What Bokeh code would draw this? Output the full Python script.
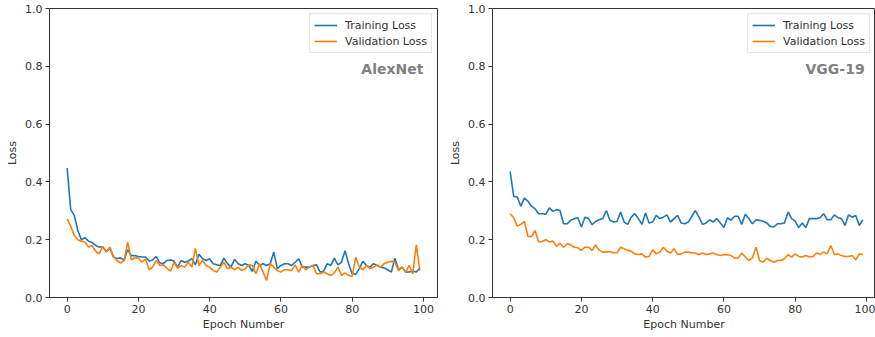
from bokeh.plotting import figure
from bokeh.layouts import row
from bokeh.models import Range1d, FixedTicker, PrintfTickFormatter, Label
from bokeh.embed import file_html
from bokeh.resources import INLINE

epochs = list(range(100))

alex_train = [0.448, 0.304, 0.284, 0.232, 0.200, 0.207, 0.195, 0.190, 0.180, 0.175,
              0.175, 0.160, 0.170, 0.140, 0.135, 0.137, 0.130, 0.165, 0.145, 0.145,
              0.142, 0.140, 0.140, 0.126, 0.130, 0.142, 0.120, 0.117, 0.128, 0.130,
              0.126, 0.105, 0.128, 0.122, 0.126, 0.134, 0.113, 0.150, 0.134, 0.128,
              0.134, 0.117, 0.113, 0.111, 0.136, 0.117, 0.105, 0.132, 0.117, 0.111,
              0.117, 0.111, 0.090, 0.126, 0.111, 0.117, 0.111, 0.117, 0.157, 0.100,
              0.111, 0.117, 0.117, 0.111, 0.122, 0.134, 0.105, 0.105, 0.105, 0.111,
              0.113, 0.088, 0.091, 0.117, 0.111, 0.136, 0.113, 0.122, 0.162, 0.117,
              0.082, 0.080, 0.100, 0.125, 0.111, 0.105, 0.117, 0.111, 0.105, 0.102,
              0.096, 0.088, 0.136, 0.096, 0.105, 0.088, 0.088, 0.091, 0.088, 0.102]

alex_val = [0.272, 0.246, 0.215, 0.200, 0.195, 0.192, 0.175, 0.180, 0.160, 0.151,
            0.177, 0.157, 0.175, 0.142, 0.128, 0.119, 0.128, 0.192, 0.130, 0.137,
            0.137, 0.122, 0.134, 0.096, 0.105, 0.128, 0.111, 0.113, 0.102, 0.091,
            0.122, 0.102, 0.111, 0.105, 0.122, 0.105, 0.170, 0.111, 0.128, 0.111,
            0.105, 0.093, 0.088, 0.105, 0.122, 0.100, 0.105, 0.096, 0.105, 0.093,
            0.100, 0.113, 0.111, 0.082, 0.117, 0.088, 0.059, 0.117, 0.105, 0.093,
            0.088, 0.096, 0.096, 0.093, 0.113, 0.088, 0.111, 0.096, 0.105, 0.111,
            0.082, 0.082, 0.088, 0.082, 0.076, 0.085, 0.105, 0.076, 0.085, 0.076,
            0.073, 0.140, 0.105, 0.096, 0.111, 0.100, 0.105, 0.113, 0.105, 0.117,
            0.122, 0.125, 0.122, 0.093, 0.105, 0.088, 0.111, 0.082, 0.182, 0.093]

vgg_train = [0.436, 0.350, 0.348, 0.316, 0.344, 0.333, 0.316, 0.307, 0.290, 0.290,
             0.288, 0.310, 0.298, 0.304, 0.301, 0.255, 0.255, 0.267, 0.273, 0.276,
             0.244, 0.278, 0.273, 0.252, 0.263, 0.269, 0.273, 0.301, 0.267, 0.261,
             0.263, 0.296, 0.261, 0.253, 0.278, 0.290, 0.273, 0.253, 0.292, 0.258,
             0.261, 0.284, 0.273, 0.278, 0.286, 0.261, 0.273, 0.284, 0.258, 0.255,
             0.261, 0.281, 0.301, 0.278, 0.253, 0.258, 0.269, 0.261, 0.273, 0.258,
             0.242, 0.276, 0.267, 0.281, 0.281, 0.253, 0.288, 0.273, 0.255, 0.269,
             0.267, 0.264, 0.258, 0.246, 0.244, 0.255, 0.255, 0.258, 0.296, 0.273,
             0.264, 0.242, 0.258, 0.242, 0.273, 0.273, 0.273, 0.276, 0.290, 0.269,
             0.269, 0.286, 0.276, 0.273, 0.249, 0.286, 0.278, 0.284, 0.249, 0.269]

vgg_val = [0.290, 0.276, 0.247, 0.253, 0.263, 0.211, 0.211, 0.232, 0.192, 0.194,
           0.200, 0.192, 0.195, 0.177, 0.188, 0.174, 0.186, 0.182, 0.174, 0.172,
           0.163, 0.174, 0.174, 0.163, 0.182, 0.163, 0.157, 0.157, 0.159, 0.154,
           0.155, 0.174, 0.169, 0.163, 0.160, 0.151, 0.149, 0.151, 0.140, 0.142,
           0.165, 0.151, 0.157, 0.174, 0.160, 0.154, 0.169, 0.149, 0.151, 0.157,
           0.157, 0.154, 0.154, 0.148, 0.154, 0.149, 0.151, 0.154, 0.149, 0.145,
           0.149, 0.148, 0.145, 0.136, 0.137, 0.154, 0.140, 0.128, 0.137, 0.174,
           0.128, 0.122, 0.136, 0.128, 0.122, 0.128, 0.128, 0.134, 0.148, 0.140,
           0.151, 0.142, 0.140, 0.145, 0.140, 0.142, 0.154, 0.149, 0.157, 0.151,
           0.180, 0.149, 0.151, 0.145, 0.142, 0.142, 0.145, 0.130, 0.151, 0.149]

x_ticks = [0, 20, 40, 60, 80, 100]
y_ticks = [0.0, 0.2, 0.4, 0.6, 0.8, 1.0]

FONT = "DejaVu Sans"
BLUE = "#1f77b4"
ORANGE = "#ff7f0e"
INK = "#333333"


def make_panel(train, val, name, width, x_end, border_right, name_x):
    p = figure(width=width, height=337, output_backend="svg", toolbar_location=None,
               x_range=Range1d(-4.95, x_end), y_range=Range1d(0, 1.0),
               min_border_left=49, min_border_right=border_right,
               min_border_top=8, min_border_bottom=40)
    p.background_fill_color = "white"
    p.border_fill_color = "white"
    p.outline_line_color = INK
    p.outline_line_width = 1
    p.xgrid.visible = False
    p.ygrid.visible = False

    p.line(epochs, train, line_color=BLUE, line_width=1.6, legend_label="Training Loss")
    p.line(epochs, val, line_color=ORANGE, line_width=1.6, legend_label="Validation Loss")

    for ax in (p.xaxis[0], p.yaxis[0]):
        ax.axis_line_color = INK
        ax.major_tick_line_color = INK
        ax.major_tick_out = 4
        ax.major_tick_in = 0
        ax.minor_tick_line_color = None
        ax.major_label_text_font = FONT
        ax.major_label_text_font_size = "11px"
        ax.major_label_text_color = INK
        ax.major_label_standoff = 3
        ax.axis_label_text_font = FONT
        ax.axis_label_text_font_size = "11px"
        ax.axis_label_text_font_style = "normal"
        ax.axis_label_text_color = INK

    p.xaxis.ticker = FixedTicker(ticks=x_ticks)
    p.yaxis.ticker = FixedTicker(ticks=y_ticks)
    p.yaxis.formatter = PrintfTickFormatter(format="%.1f")
    p.xaxis.axis_label = "Epoch Number"
    p.yaxis.axis_label = "Loss"
    p.xaxis.axis_label_standoff = 2
    p.yaxis.axis_label_standoff = 3

    lg = p.legend[0]
    lg.location = "top_right"
    lg.margin = 5
    lg.padding = 4
    lg.spacing = 2
    lg.label_text_font = FONT
    lg.label_text_font_size = "11px"
    lg.label_text_color = INK
    lg.label_height = 14
    lg.glyph_height = 14
    lg.glyph_width = 23
    lg.label_standoff = 8
    lg.border_line_color = "#cccccc"
    lg.border_line_width = 1
    lg.background_fill_alpha = 0.8

    p.add_layout(Label(x=name_x, y=0.79, text=name, text_align="right",
                       text_baseline="middle", text_font=FONT, text_font_size="14px",
                       text_font_style="bold", text_color="#808080"))
    return p


p1 = make_panel(alex_train, alex_val, "AlexNet", 443, 103.95, 6, 100)
p2 = make_panel(vgg_train, vgg_val, "VGG-19", 432, 102.55, 0, 99.5)

layout = row(p1, p2)
open("out.html", "w").write(file_html(layout, INLINE))
